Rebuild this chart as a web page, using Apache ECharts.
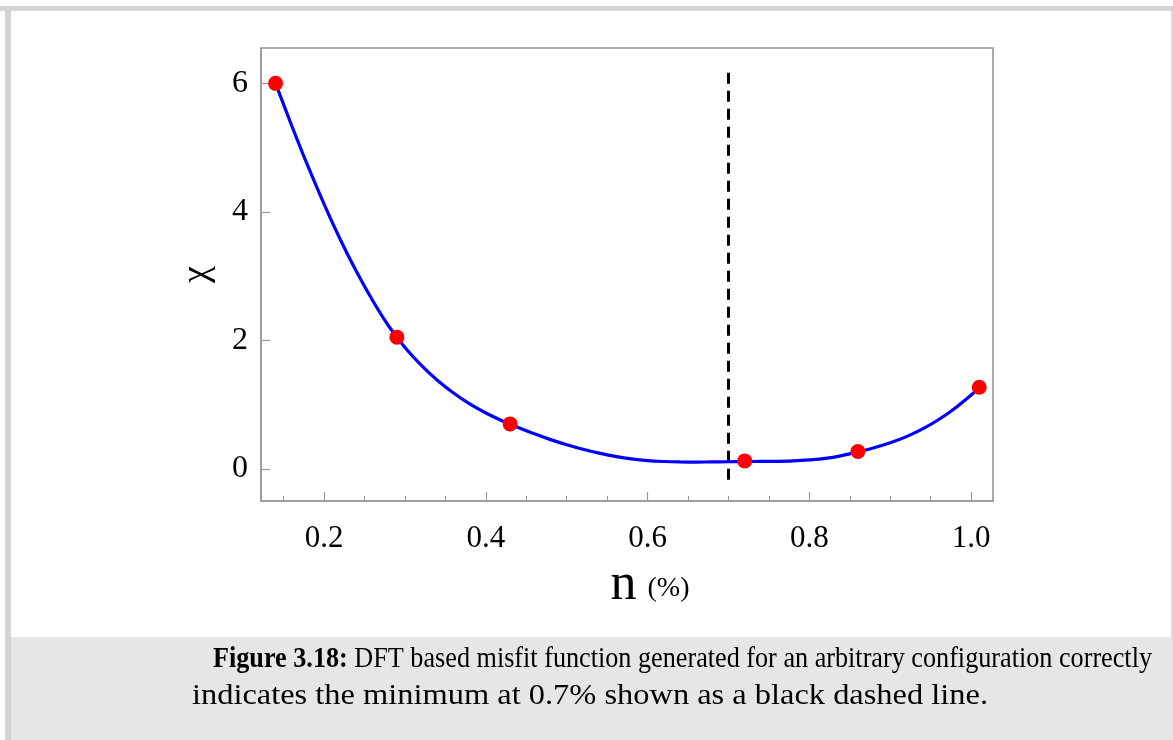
<!DOCTYPE html>
<html>
<head>
<meta charset="utf-8">
<script src="https://cdn.jsdelivr.net/npm/echarts@6/dist/echarts.min.js"></script>
<style>
html,body{margin:0;padding:0;background:#fff;}
#c{width:1173px;height:740px;}
</style>
</head>
<body>
<div id="c"></div>
<script>
// Fitted misfit curve
const curveN   = [0.14,0.16,0.18,0.20,0.22,0.24,0.26,0.28,0.30,0.32,0.34,0.36,0.38,0.40,0.42,0.44,0.46,0.48,0.50,0.52,0.54,0.56,0.58,0.60,0.62,0.64,0.66,0.68,0.70,0.72,0.74,0.76,0.78,0.80,0.82,0.84,0.86,0.88,0.90,0.92,0.94,0.96,0.98,1.00,1.01];
const curveChi = [6.00,5.34,4.71,4.12,3.57,3.07,2.62,2.22,1.89,1.615,1.38,1.18,1.01,0.87,0.75,0.645,0.545,0.455,0.375,0.305,0.245,0.195,0.155,0.128,0.115,0.108,0.106,0.108,0.111,0.114,0.116,0.118,0.125,0.14,0.163,0.207,0.265,0.33,0.406,0.502,0.622,0.768,0.944,1.15,1.265];
// DFT sample points
const pointN   = [0.14,0.29,0.43,0.72,0.86,1.01];
const pointChi = [6.00,2.05,0.70,0.124,0.27,1.27];
// Minimum marker (dashed)
const dashN   = [0.70,0.70];
const dashChi = [-0.17,6.2];
// Ticks
const xMajorTicks = [0.2,0.4,0.6,0.8,1.0];
const xMinorTicks = [0.15,0.25,0.3,0.35,0.45,0.5,0.55,0.65,0.7,0.75,0.85,0.9,0.95];
const yTicks = [0,2,4,6];
const xLabels = ['0.2','0.4','0.6','0.8','1.0'];
const yLabels = ['0','2','4','6'];
const captionBold = 'Figure 3.18:';
const captionLine1 = ' DFT based misfit function generated for an arbitrary configuration correctly';
const captionLine2 = 'indicates the minimum at 0.7% shown as a black dashed line.';

const FONT = '"Liberation Serif", "Times New Roman", serif';
const CAP_SIZE = 29;
const chart = echarts.init(document.getElementById('c'), null, {renderer:'canvas'});
const xMin = 0.122, xMax = 1.027, yMin = -0.5, yMax = 6.55;
const axisGray = '#999999';

const zip = (a,b) => a.map((v,i)=>[v,b[i]]);

// measure caption text to fit the reference line widths
const mctx = document.createElement('canvas').getContext('2d');
function tw(txt, bold){ mctx.font = (bold?'bold ':'') + CAP_SIZE + 'px ' + FONT; return mctx.measureText(txt).width; }
const line1W = tw(captionBold,true) + tw(captionLine1,false);
const line2W = tw(captionLine2,false);
const s1 = 939 / line1W;
const s2 = 796 / line2W;

const option = {
  animation:false,
  backgroundColor:'#ffffff',
  grid:{left:261, top:48, right:180, bottom:239, show:true, borderColor:'#919191', borderWidth:1.5, backgroundColor:'transparent', containLabel:false, outerBoundsMode:'none'},
  xAxis:[
    {type:'value', min:xMin, max:xMax, position:'bottom',
     axisLine:{show:true, onZero:false, lineStyle:{color:axisGray, width:1.5}},
     axisTick:{show:true, inside:true, length:9, customValues:xMajorTicks, lineStyle:{color:axisGray, width:1.2}},
     axisLabel:{show:true, customValues:xMajorTicks, margin:22, fontFamily:FONT, fontSize:31, color:'#000',
       formatter:(v)=>xLabels[xMajorTicks.findIndex(t=>Math.abs(t-v)<1e-6)] || ''},
     splitLine:{show:false},
     name:'{n|n}{p|(%)}', nameLocation:'middle', nameGap:58,
     nameTextStyle:{padding:[0,0,0,46], rich:{n:{fontFamily:FONT, fontSize:52, color:'#000', padding:[0,11,0,0]}, p:{fontFamily:FONT, fontSize:28, color:'#000', padding:[8,0,0,0]}}}
    },
    {type:'value', min:xMin, max:xMax, position:'bottom', gridIndex:0,
     axisLine:{show:false, onZero:false},
     axisTick:{show:true, inside:true, length:5, customValues:xMinorTicks, lineStyle:{color:axisGray, width:1}},
     axisLabel:{show:false}, splitLine:{show:false}}
  ],
  yAxis:[
    {type:'value', min:yMin, max:yMax, position:'left',
     axisLine:{show:true, onZero:false, lineStyle:{color:axisGray, width:1.5}},
     axisTick:{show:true, inside:true, length:9, customValues:yTicks, lineStyle:{color:axisGray, width:1.2}},
     axisLabel:{show:true, customValues:yTicks, margin:13, fontFamily:FONT, fontSize:32, color:'#000',
       formatter:(v)=>yLabels[yTicks.findIndex(t=>Math.abs(t-v)<1e-6)] || ''},
     splitLine:{show:false},
     name:'χ', nameLocation:'middle', nameGap:45, nameRotate:90,
     nameTextStyle:{fontFamily:FONT, fontSize:38, color:'#000'}
    }
  ],
  series:[
    {type:'line', name:'dash', data:zip(dashN,dashChi), symbol:'none', z:1,
     lineStyle:{color:'#000', width:3, type:[11,7]}},
    {type:'line', name:'curve', data:zip(curveN,curveChi), symbol:'none', smooth:0.3, z:2,
     lineStyle:{color:'#0000ff', width:3.2}},
    {type:'scatter', name:'points', data:zip(pointN,pointChi), symbol:'circle', symbolSize:15, z:3,
     itemStyle:{color:'#ff0000', opacity:1}}
  ],
  graphic:[
    {type:'rect', shape:{x:0,y:6,width:1173,height:5}, style:{fill:'#d4d4d4'}, z:-10, silent:true},
    {type:'rect', shape:{x:5,y:6,width:6,height:734}, style:{fill:'#d4d4d4'}, z:-10, silent:true},
    {type:'rect', shape:{x:1171,y:11,width:2,height:626}, style:{fill:'#dcdcdc'}, z:-10, silent:true},
    {type:'rect', shape:{x:11,y:637,width:1162,height:103}, style:{fill:'#e6e6e6'}, z:-10, silent:true},
    {type:'text', x:213, y:645, scaleX:s1, z:10, style:{
      text:'{b|'+captionBold+'}{r|'+captionLine1+'}',
      rich:{b:{fontFamily:FONT, fontSize:CAP_SIZE, fontWeight:'bold', fill:'#000'}, r:{fontFamily:FONT, fontSize:CAP_SIZE, fill:'#000'}}
    }},
    {type:'text', x:192, y:682, scaleX:s2, z:10, style:{
      text:captionLine2, fontFamily:FONT, fontSize:CAP_SIZE, fill:'#000'
    }}
  ]
};
chart.setOption(option);
</script>
</body>
</html>
